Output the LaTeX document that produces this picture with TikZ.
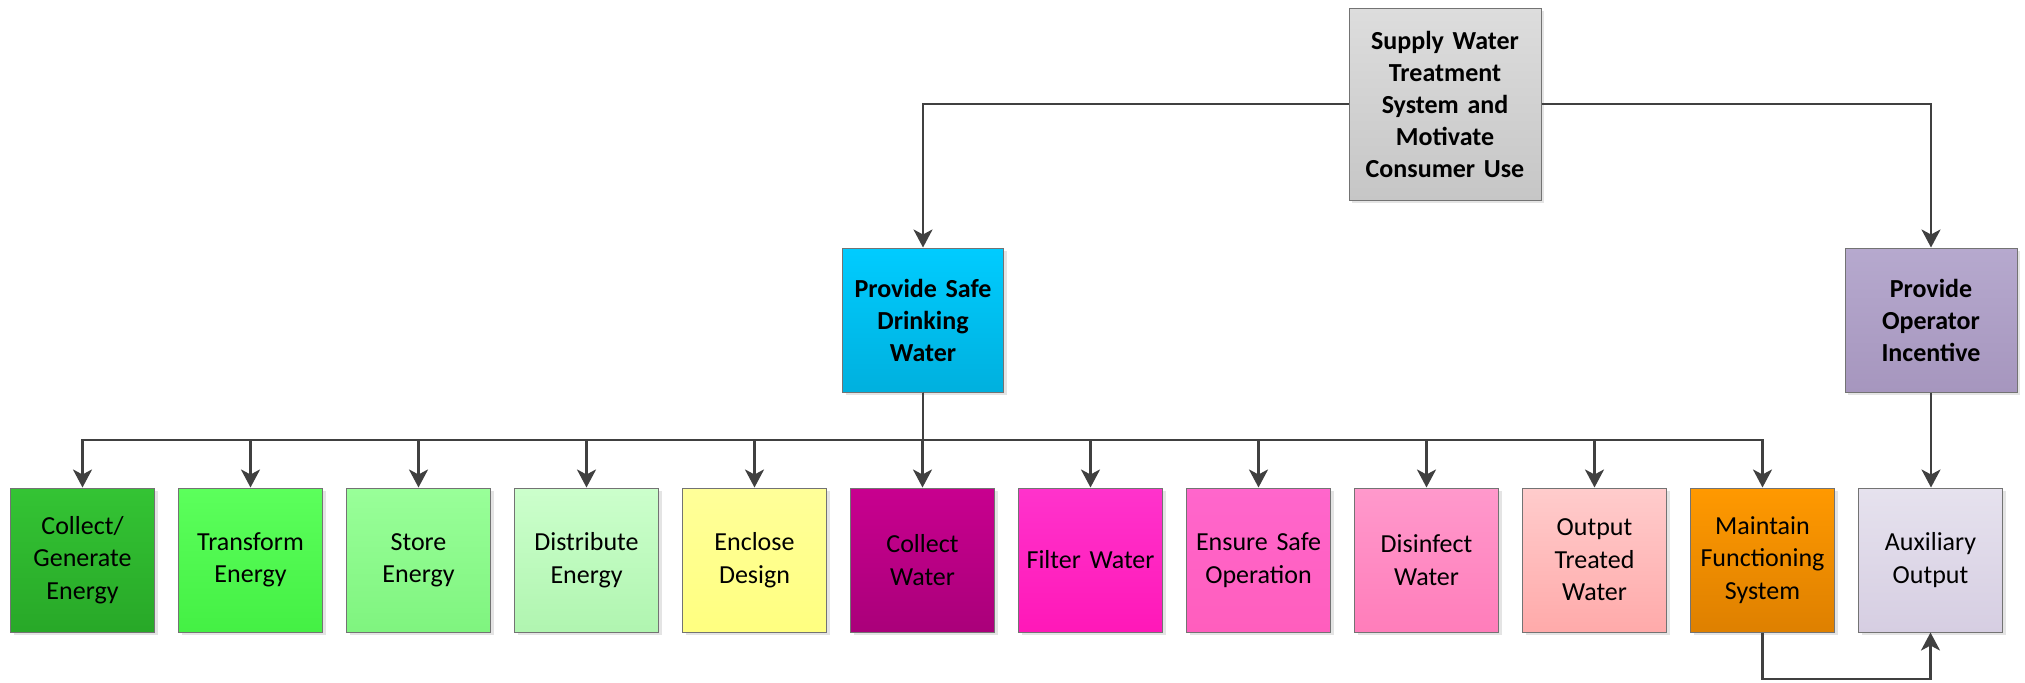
\documentclass[tikz,border=0pt]{standalone}
\usepackage{fontspec}
\setmainfont{Carlito}
\usetikzlibrary{arrows.meta,shadows}
\begin{document}
\begin{tikzpicture}[x=0.5pt,y=-0.5pt,
  box/.style={draw=black!55, line width=0.5pt, minimum width=72pt, minimum height=72pt,
    align=center, inner sep=1pt, text width=69pt, font=\fontsize{13}{16.2}\selectfont,
    drop shadow={shadow xshift=1.5pt, shadow yshift=-1.5pt, fill=black!30, opacity=0.35}},
  grad/.style 2 args={top color=#1, bottom color=#2},
  bold/.style={font=\bfseries\fontsize{13}{16}\selectfont},
  conn/.style={draw=black!75, line width=1.4pt, -{Stealth[length=9pt,width=9.5pt,inset=2.5pt]}},
  link/.style={draw=black!75, line width=1.4pt},
]
\useasboundingbox (0,0) rectangle (2025,682);
\definecolor{c1a}{HTML}{34C434}\definecolor{c1b}{HTML}{28A828}
\definecolor{c2a}{HTML}{5CFF5C}\definecolor{c2b}{HTML}{44F044}
\definecolor{c3a}{HTML}{99FF99}\definecolor{c3b}{HTML}{7FF47F}
\definecolor{c4a}{HTML}{CCFFCC}\definecolor{c4b}{HTML}{B0F5B0}
\definecolor{c5a}{HTML}{FFFF99}\definecolor{c5b}{HTML}{FFFF80}
\definecolor{c6a}{HTML}{C8008F}\definecolor{c6b}{HTML}{AA007A}
\definecolor{c7a}{HTML}{FF33CC}\definecolor{c7b}{HTML}{FF18B8}
\definecolor{c8a}{HTML}{FF66CC}\definecolor{c8b}{HTML}{FF5EBD}
\definecolor{c9a}{HTML}{FF99CC}\definecolor{c9b}{HTML}{FF7DBA}
\definecolor{c10a}{HTML}{FFCCCC}\definecolor{c10b}{HTML}{FFAAAA}
\definecolor{c11a}{HTML}{FF9900}\definecolor{c11b}{HTML}{DE8000}
\definecolor{c12a}{HTML}{E6E2EE}\definecolor{c12b}{HTML}{D6CEE2}
\definecolor{ctopa}{HTML}{DDDDDD}\definecolor{ctopb}{HTML}{C6C6C6}
\definecolor{cpswa}{HTML}{00CCFF}\definecolor{cpswb}{HTML}{00B0DE}
\definecolor{cpoia}{HTML}{B6A9CE}\definecolor{cpoib}{HTML}{A696BE}

\node[box, bold, grad={ctopa}{ctopb}, minimum width=96pt, minimum height=96pt, text width=90pt] (top) at (1445,104)
  {Supply Water\\Treatment\\System and\\Motivate\\Consumer Use};
\node[box, bold, grad={cpswa}{cpswb}, minimum width=80.5pt, text width=76pt] (psw) at (923,320)
  {Provide Safe\\Drinking\\Water};
\node[box, bold, grad={cpoia}{cpoib}, minimum width=86pt, text width=80pt] (poi) at (1931,320)
  {Provide\\Operator\\Incentive};

\node[box, grad={c1a}{c1b}]   (b1)  at (82.5,560)  {Collect/\\Generate\\Energy};
\node[box, grad={c2a}{c2b}]   (b2)  at (250.5,560) {Transform\\Energy};
\node[box, grad={c3a}{c3b}]   (b3)  at (418.5,560) {Store\\Energy};
\node[box, grad={c4a}{c4b}]   (b4)  at (586.5,560) {Distribute\\Energy};
\node[box, grad={c5a}{c5b}]   (b5)  at (754.5,560) {Enclose\\Design};
\node[box, grad={c6a}{c6b}]   (b6)  at (922.5,560) {Collect\\Water};
\node[box, grad={c7a}{c7b}]   (b7)  at (1090.5,560) {Filter Water};
\node[box, grad={c8a}{c8b}]   (b8)  at (1258.5,560) {Ensure Safe\\Operation};
\node[box, grad={c9a}{c9b}]   (b9)  at (1426.5,560) {Disinfect\\Water};
\node[box, grad={c10a}{c10b}] (b10) at (1594.5,560) {Output\\Treated\\Water};
\node[box, grad={c11a}{c11b}] (b11) at (1762.5,560) {Maintain\\Functioning\\System};
\node[box, grad={c12a}{c12b}] (b12) at (1930.5,560) {Auxiliary\\Output};

\coordinate (busY) at (0,440);
\coordinate (loopY) at (0,679);

\draw[conn] (top.west) -| (psw.north);
\draw[conn] (top.east) -| (poi.north);
\foreach \b in {b1,b2,b3,b4,b5,b6,b7,b8,b9,b10,b11}{
  \draw[conn] (psw.south) |- (\b.north |- busY) -- (\b.north);
}
\draw[conn] (poi.south) -- (poi.south |- b12.north);
\draw[conn] (b11.south) -- (b11.south |- loopY) -| (b12.south);
\end{tikzpicture}
\end{document}
